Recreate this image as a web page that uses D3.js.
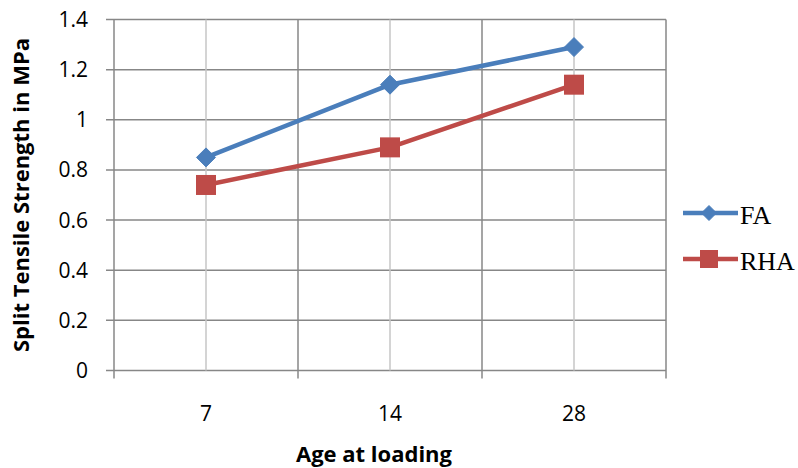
<!DOCTYPE html>
<html><head><meta charset="utf-8">
<script src="https://cdn.jsdelivr.net/npm/d3@7"></script>
<style>body{margin:0;background:#fff}</style>
</head><body><svg id="c" width="798" height="468"></svg>
<script>
const categories = ["7", "14", "28"];
const faValues = [0.85, 1.14, 1.29];
const rhaValues = [0.74, 0.89, 1.14];
const yTicks = [0, 0.2, 0.4, 0.6, 0.8, 1, 1.2, 1.4];
const seriesNames = ["FA", "RHA"];

const svg = d3.select("#c");
const L = 114, R = 666, T = 19.5, B = 370.5;
const x = d3.scaleBand().domain(categories).range([L, R]).paddingInner(0).paddingOuter(0);
const y = d3.scaleLinear().domain([0, 1.4]).range([B, T]);
const cx = d => x(d) + x.bandwidth() / 2;

// horizontal gridlines
svg.append("g").selectAll("line").data(yTicks).join("line")
  .attr("x1", L - 8).attr("x2", R).attr("y1", d => y(d)).attr("y2", d => y(d))
  .attr("stroke", "#878787").attr("stroke-width", 1.5);
// vertical gridlines at category centres (light)
svg.append("g").selectAll("line").data(categories).join("line")
  .attr("x1", d => cx(d)).attr("x2", d => cx(d)).attr("y1", T).attr("y2", B)
  .attr("stroke", "#c6c6c6").attr("stroke-width", 1.5);
// band boundaries (darker) with ticks below axis
const bounds = categories.map(d => x(d)).concat([R]);
svg.append("g").selectAll("line").data(bounds).join("line")
  .attr("x1", d => d).attr("x2", d => d).attr("y1", T).attr("y2", B + 8)
  .attr("stroke", "#878787").attr("stroke-width", 1.5);

const font = "Open Sans, sans-serif";
// y tick labels
svg.append("g").selectAll("text").data(yTicks).join("text")
  .attr("x", 88).attr("y", d => y(d)).attr("dy", "0.36em").attr("text-anchor", "end")
  .attr("font-family", font).attr("font-size", 21).attr("fill", "#000")
  .text(d => d);
// x tick labels
svg.append("g").selectAll("text").data(categories).join("text")
  .attr("x", d => cx(d)).attr("y", 421).attr("text-anchor", "middle")
  .attr("font-family", font).attr("font-size", 21).attr("fill", "#000")
  .text(d => d);

// axis titles
svg.append("text").attr("x", 374).attr("y", 462).attr("text-anchor", "middle")
  .attr("font-family", font).attr("font-weight", "bold").attr("font-size", 22)
  .text("Age at loading");
svg.append("text").attr("transform", "translate(29,195) rotate(-90)").attr("text-anchor", "middle")
  .attr("font-family", font).attr("font-weight", "bold").attr("font-size", 22)
  .text("Split Tensile Strength in MPa");

const colors = ["#4a7ebb", "#be4b48"];
const data = [faValues, rhaValues];
const line = d3.line().x((d, i) => cx(categories[i])).y(d => y(d));
data.forEach((vals, s) => {
  svg.append("path").attr("d", line(vals)).attr("fill", "none")
    .attr("stroke", colors[s]).attr("stroke-width", 4.5).attr("stroke-linejoin", "round");
});
function marker(g, s, px, py, r) {
  if (s === 0) {
    g.append("path").attr("d", `M${px},${py - r}L${px + r},${py}L${px},${py + r}L${px - r},${py}Z`)
      .attr("fill", colors[s]).attr("stroke", colors[s]).attr("stroke-width", 1).attr("stroke-linejoin", "round");
  } else {
    g.append("rect").attr("x", px - r).attr("y", py - r).attr("width", 2 * r).attr("height", 2 * r)
      .attr("fill", colors[s]);
  }
}
data.forEach((vals, s) => {
  const g = svg.append("g");
  vals.forEach((v, i) => marker(g, s, cx(categories[i]), y(v), s === 0 ? 9.5 : 10));
});

// legend
seriesNames.forEach((n, s) => {
  const ly = 213 + s * 46;
  svg.append("line").attr("x1", 683).attr("x2", 738).attr("y1", ly).attr("y2", ly)
    .attr("stroke", colors[s]).attr("stroke-width", 4.5);
  marker(svg.append("g"), s, 709, ly, s === 0 ? 7.5 : 9);
  svg.append("text").attr("x", 740).attr("y", ly + 11)
    .attr("font-family", "Liberation Serif, Times New Roman, serif").attr("font-size", 26)
    .text(n);
});
</script></body></html>
